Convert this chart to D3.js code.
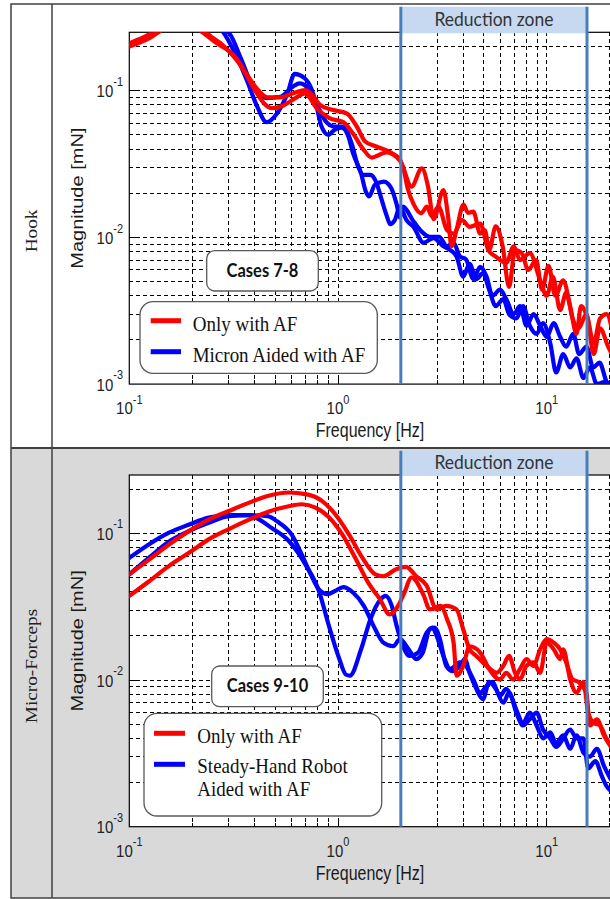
<!DOCTYPE html>
<html>
<head>
<meta charset="utf-8">
<script src="https://cdn.jsdelivr.net/npm/d3@7"></script>
<style>
  body { margin: 0; background: #fff; }
  svg { display: block; }
</style>
</head>
<body>
<svg id="fig" width="610" height="899"></svg>
<script>
// ---- data: [frequency Hz, magnitude mN] ----
var hookOnlyAF1 = [[0.1,0.21],[0.12,0.235],[0.137,0.26],[0.16,0.29],[0.19,0.29],[0.224,0.25],[0.263,0.21],[0.315,0.176],[0.367,0.128],[0.414,0.101],[0.46,0.09],[0.528,0.09],[0.61,0.096],[0.695,0.101],[0.74,0.096],[0.82,0.08],[0.94,0.074],[1.1,0.07],[1.23,0.057],[1.35,0.045],[1.5,0.042],[1.65,0.04],[1.84,0.037],[1.98,0.034],[2.05,0.03],[2.25,0.0222],[2.52,0.0295],[2.7,0.0222],[2.87,0.0133],[3.2,0.021],[3.37,0.0138],[3.5,0.0087],[3.7,0.0113],[3.99,0.0167],[4.2,0.0147],[4.45,0.015],[4.8,0.0106],[5.05,0.0112],[5.3,0.0082],[5.7,0.0119],[6.15,0.0087],[6.6,0.0046],[7.05,0.0082],[7.6,0.0078],[8.15,0.006],[8.9,0.007],[9.5,0.0044],[10.2,0.0064],[11,0.004],[12,0.0051],[12.95,0.0034],[13.9,0.0022],[14.6,0.0034],[15.7,0.0028],[16.8,0.0019],[18,0.0028],[19.4,0.003],[20.5,0.0024]];
var hookOnlyAF2 = [[0.1,0.2],[0.126,0.23],[0.15,0.27],[0.19,0.3],[0.22,0.28],[0.234,0.25],[0.28,0.205],[0.34,0.15],[0.4,0.101],[0.45,0.08],[0.48,0.076],[0.545,0.079],[0.625,0.089],[0.695,0.096],[0.79,0.076],[0.91,0.065],[1.06,0.061],[1.18,0.051],[1.32,0.04],[1.45,0.035],[1.57,0.0365],[1.71,0.038],[1.9,0.0355],[2.05,0.0303],[2.15,0.022],[2.3,0.0169],[2.5,0.0146],[2.67,0.0162],[2.81,0.014],[3.03,0.0162],[3.33,0.0112],[3.58,0.0106],[3.93,0.0131],[4.27,0.0118],[4.8,0.0124],[5.25,0.0082],[5.7,0.0074],[6.4,0.0067],[6.95,0.0087],[7.45,0.007],[8.3,0.0078],[9.3,0.0051],[10,0.004],[10.7,0.0054],[11.6,0.0032],[12.4,0.0042],[13.3,0.0028],[14.2,0.0024],[15.5,0.003],[16.8,0.0016],[18,0.0024],[19.7,0.0018],[21,0.0015]];
var hookMicron1 = [[0.1,0.3],[0.15,0.34],[0.2,0.33],[0.25,0.29],[0.282,0.25],[0.315,0.19],[0.365,0.119],[0.41,0.078],[0.455,0.061],[0.51,0.07],[0.57,0.094],[0.62,0.13],[0.69,0.122],[0.75,0.101],[0.79,0.078],[0.83,0.058],[0.9,0.05],[0.96,0.054],[1.04,0.056],[1.12,0.049],[1.18,0.0375],[1.29,0.0273],[1.36,0.0205],[1.41,0.019],[1.5,0.0228],[1.66,0.024],[1.8,0.0216],[1.91,0.0168],[1.98,0.0137],[2.05,0.0162],[2.28,0.0131],[2.48,0.0112],[2.75,0.0101],[3.05,0.0101],[3.33,0.0087],[3.58,0.0092],[3.84,0.0074],[4.1,0.0071],[4.45,0.0052],[4.8,0.0063],[5.15,0.0054],[5.5,0.004],[5.97,0.0044],[6.4,0.0038],[6.95,0.003],[7.45,0.0034],[8,0.0025],[8.65,0.003],[9.3,0.0025],[10,0.0021],[10.8,0.0026],[11.6,0.0021],[12.4,0.0018],[13.4,0.0022],[14.3,0.0016],[15.5,0.0018],[16.7,0.0013],[17.9,0.0014],[19.3,0.00105],[21,0.0009]];
var hookMicron2 = [[0.1,0.28],[0.15,0.31],[0.2,0.3],[0.25,0.27],[0.298,0.25],[0.34,0.17],[0.39,0.107],[0.455,0.089],[0.53,0.091],[0.61,0.107],[0.655,0.112],[0.73,0.101],[0.8,0.078],[0.88,0.061],[0.96,0.057],[1.06,0.057],[1.16,0.044],[1.25,0.0303],[1.32,0.0267],[1.43,0.0267],[1.53,0.0235],[1.62,0.018],[1.71,0.0141],[1.78,0.0123],[1.87,0.0131],[1.98,0.0162],[2.13,0.0131],[2.3,0.0118],[2.57,0.0092],[2.87,0.0099],[3.2,0.0087],[3.45,0.0082],[3.7,0.0074],[3.98,0.0054],[4.27,0.0066],[4.6,0.0052],[4.95,0.0057],[5.3,0.0044],[5.7,0.0034],[6.2,0.0038],[6.6,0.003],[7.15,0.0028],[7.7,0.0034],[8.3,0.0025],[8.95,0.0022],[9.6,0.0026],[10.4,0.0019],[11.1,0.0012],[12,0.0016],[12.95,0.0013],[13.9,0.0015],[15,0.0011],[16.1,0.0013],[17.4,0.001],[18.8,0.00103],[21,0.0009]];

var forcepsOnlyAF1 = [[0.1,0.0526],[0.124,0.066],[0.155,0.084],[0.194,0.104],[0.24,0.124],[0.3,0.142],[0.375,0.162],[0.46,0.18],[0.58,0.19],[0.7,0.185],[0.84,0.166],[0.97,0.135],[1.13,0.098],[1.31,0.068],[1.51,0.0526],[1.65,0.051],[1.9,0.057],[2.12,0.059],[2.37,0.051],[2.66,0.044],[2.97,0.0303],[3.3,0.032],[3.7,0.0303],[3.98,0.0222],[4.27,0.0162],[4.6,0.0146],[5.15,0.0125],[5.75,0.0112],[6.2,0.0125],[6.6,0.0146],[7.05,0.0112],[7.45,0.0101],[8,0.0125],[8.65,0.0132],[9.3,0.0112],[10,0.018],[10.8,0.0162],[11.6,0.0139],[12,0.0162],[12.95,0.0101],[13.9,0.0082],[15,0.0097],[15.8,0.006],[16.8,0.0051],[18,0.0049],[19.3,0.004],[20.5,0.0036]];
var forcepsOnlyAF2 = [[0.1,0.0375],[0.124,0.047],[0.155,0.06],[0.194,0.074],[0.24,0.091],[0.3,0.107],[0.375,0.124],[0.46,0.14],[0.58,0.153],[0.67,0.158],[0.78,0.15],[0.9,0.13],[1.05,0.098],[1.21,0.068],[1.41,0.045],[1.58,0.036],[1.77,0.028],[1.94,0.032],[2.08,0.0395],[2.25,0.05],[2.58,0.0375],[2.75,0.0303],[3.1,0.032],[3.33,0.026],[3.58,0.018],[3.7,0.0107],[3.98,0.0125],[4.27,0.017],[4.8,0.0154],[5.3,0.0119],[5.97,0.0101],[6.4,0.0112],[6.9,0.0101],[7.45,0.0119],[8,0.0139],[8.65,0.0125],[9.3,0.0162],[10,0.019],[10.8,0.018],[11.6,0.0162],[12.4,0.0132],[13.3,0.0101],[14.2,0.0097],[15.5,0.0082],[16.1,0.0049],[17.4,0.0054],[18.8,0.0042],[20.3,0.0035]];
var forcepsSteady1 = [[0.1,0.068],[0.124,0.084],[0.155,0.101],[0.194,0.115],[0.24,0.128],[0.3,0.133],[0.375,0.133],[0.46,0.131],[0.51,0.121],[0.6,0.098],[0.67,0.072],[0.74,0.0526],[0.81,0.0415],[0.89,0.0385],[0.97,0.0405],[1.06,0.043],[1.18,0.0395],[1.33,0.032],[1.48,0.0234],[1.65,0.018],[1.84,0.017],[1.98,0.019],[2.18,0.0162],[2.37,0.0139],[2.55,0.0154],[2.75,0.0222],[2.9,0.0228],[3.08,0.019],[3.3,0.0125],[3.55,0.0115],[3.84,0.0125],[4.05,0.0139],[4.27,0.0112],[4.6,0.0087],[4.95,0.0074],[5.3,0.0097],[5.7,0.0087],[6.2,0.007],[6.6,0.0082],[7.15,0.006],[7.7,0.0049],[8.3,0.0054],[8.95,0.006],[9.6,0.0046],[10.4,0.004],[11.1,0.0035],[12,0.004],[12.95,0.0046],[13.9,0.004],[15,0.004],[15.8,0.0025],[17.1,0.0028],[18.4,0.0022],[19.3,0.0019],[21,0.0017]];
var forcepsSteady2 = [[0.1,0.0526],[0.124,0.068],[0.155,0.088],[0.194,0.104],[0.24,0.118],[0.3,0.131],[0.375,0.133],[0.42,0.124],[0.48,0.109],[0.58,0.089],[0.7,0.061],[0.81,0.0405],[0.9,0.024],[1.01,0.0142],[1.09,0.0109],[1.14,0.0107],[1.29,0.0162],[1.43,0.026],[1.6,0.0355],[1.69,0.0375],[1.81,0.032],[1.91,0.0234],[2.02,0.018],[2.2,0.0146],[2.42,0.0154],[2.66,0.021],[2.83,0.0228],[2.97,0.02],[3.2,0.0146],[3.45,0.0119],[3.84,0.0132],[4.1,0.0125],[4.45,0.0101],[4.8,0.0082],[5.15,0.0091],[5.5,0.0097],[5.97,0.0078],[6.4,0.0087],[6.75,0.0078],[7.15,0.0063],[7.7,0.0051],[8.3,0.006],[8.95,0.0049],[9.6,0.004],[10.4,0.0044],[11.1,0.0037],[12,0.0042],[12.95,0.0034],[13.9,0.0042],[15,0.0032],[16.1,0.003],[17.4,0.0034],[18.8,0.0026],[20.3,0.0021]];

var reductionZone = [2, 15.6];           // Hz
var xLabelTicks = [0.1, 1, 10];
var xLabelExps = ["-1", "0", "1"];
var yLabelTicks = [0.001, 0.01, 0.1];
var yLabelExps = ["-3", "-2", "-1"];
var hookLegend = [["Only with AF"], ["Micron Aided with AF"]];
var forcepsLegend = [["Only with AF"], ["Steady-Hand Robot", "Aided with AF"]];

var RED = "#ff0000", BLUE = "#0000ff";
var SANS = "'Liberation Sans', Arial, sans-serif";
var SERIF = "'Liberation Serif', 'Times New Roman', serif";
var CALI = "Lato, 'Open Sans', sans-serif";

var svg = d3.select("#fig");

// x scale shared by both panels, plot runs just past the right edge
var x = d3.scaleLog().domain([0.1, 10]).range([129.3, 546.7]);
var plotRight = 611;

// minor tick values for the log grid
function logTicks(lo, hi) {
  var out = [];
  for (var e = -4; e <= 2; e++) {
    for (var k = 1; k <= 9; k++) {
      var v = k * Math.pow(10, e);
      if (v >= lo * 0.999 && v <= hi * 1.001) out.push(+v.toPrecision(3));
    }
  }
  return out;
}

function txt(parent, str, tx, ty, o) {
  o = o || {};
  var t = parent.append("text")
    .attr("transform", "translate(" + tx + "," + ty + ") scale(1," + (o.sy || 1) + ")" + (o.rot ? " rotate(-90)" : ""))
    .attr("font-family", o.font || SANS)
    .attr("font-size", o.size || 14)
    .attr("font-weight", o.weight || "normal")
    .attr("fill", o.fill || "#000")
    .attr("text-anchor", o.anchor || "start");
  t.text(str);
  return t;
}

// ---- frame and backgrounds ----
svg.append("rect").attr("x", 0).attr("y", 0).attr("width", 610).attr("height", 899).attr("fill", "#fff");
svg.append("rect").attr("x", 11).attr("y", 448).attr("width", 620).attr("height", 450).attr("fill", "#d9d9d9");

var panels = [
  {
    rowTop: 4, rowBottom: 448, plotTop: 32.3, plotBottom: 384.1,
    red: [hookOnlyAF1, hookOnlyAF2], blue: [hookMicron1, hookMicron2],
    rowLabel: "Hook", rowLabelY: 231,
    cases: "Cases 7-8", casesBox: [206.7, 250.7, 111.6, 40.3],
    legend: hookLegend, legendBox: [140, 301.7, 237.3, 71.6],
    legendLineX: [150.7, 181], legendLineY: [320.7, 351.7], legendTextX: 192.7,
    legendBaselines: [[330.7], [361.7]]
  },
  {
    rowTop: 448, rowBottom: 898, plotTop: 475, plotBottom: 826.7,
    red: [forcepsOnlyAF1, forcepsOnlyAF2], blue: [forcepsSteady1, forcepsSteady2],
    rowLabel: "Micro-Forceps", rowLabelY: 666,
    cases: "Cases 9-10", casesBox: [211.7, 666, 111.6, 40.7],
    legend: forcepsLegend, legendBox: [144, 713.3, 237.7, 102.7],
    legendLineX: [154, 185], legendLineY: [733.3, 764.3], legendTextX: 197.3,
    legendBaselines: [[742.7], [773.3, 796]]
  }
];

panels.forEach(function(p, pi) {
  var g = svg.append("g");
  var y = d3.scaleLog().domain([0.001, 0.25]).range([p.plotBottom, p.plotTop]);
  var x0 = x(0.1);

  // plot area
  g.append("rect")
    .attr("x", x0).attr("y", p.plotTop)
    .attr("width", plotRight - x0).attr("height", p.plotBottom - p.plotTop)
    .attr("fill", "#fff");

  // dashed log grid
  var xs = logTicks(0.1, 30).filter(function(v) { return v > 0.1 && x(v) < plotRight; });
  var ys = logTicks(0.001, 0.25).filter(function(v) { return v > 0.001; });
  var grid = g.append("g").attr("stroke", "#000").attr("stroke-width", 1)
    .attr("stroke-dasharray", "4,3").attr("shape-rendering", "crispEdges");
  grid.selectAll(".gx").data(xs).enter().append("line")
    .attr("x1", function(d) { return x(d); }).attr("x2", function(d) { return x(d); })
    .attr("y1", p.plotTop).attr("y2", p.plotBottom);
  grid.selectAll(".gy").data(ys).enter().append("line")
    .attr("x1", x0).attr("x2", plotRight)
    .attr("y1", function(d) { return y(d); }).attr("y2", function(d) { return y(d); });

  // inward ticks
  var ticks = g.append("g").attr("stroke", "#000").attr("shape-rendering", "crispEdges");
  ticks.selectAll(".tx").data(xs).enter().append("line")
    .attr("x1", function(d) { return x(d); }).attr("x2", function(d) { return x(d); })
    .attr("y1", p.plotBottom).attr("y2", function(d) { return p.plotBottom - (xLabelTicks.indexOf(d) >= 0 ? 7 : 4); });
  ticks.selectAll(".ty").data(ys).enter().append("line")
    .attr("x1", x0).attr("x2", function(d) { return x0 + (yLabelTicks.indexOf(d) >= 0 ? 7 : 4); })
    .attr("y1", function(d) { return y(d); }).attr("y2", function(d) { return y(d); });

  // axes box
  g.append("rect")
    .attr("x", x0).attr("y", p.plotTop)
    .attr("width", plotRight - x0).attr("height", p.plotBottom - p.plotTop)
    .attr("fill", "none").attr("stroke", "#000").attr("stroke-width", 1.2);

  // curves
  var clipId = "clip" + pi;
  svg.append("defs").append("clipPath").attr("id", clipId).append("rect")
    .attr("x", x0).attr("y", p.plotTop)
    .attr("width", plotRight - x0).attr("height", p.plotBottom - p.plotTop);
  var line = d3.line()
    .x(function(d) { return x(d[0]); })
    .y(function(d) { return y(d[1]); })
    .curve(d3.curveMonotoneX);
  var cg = g.append("g").attr("clip-path", "url(#" + clipId + ")");
  p.blue.forEach(function(s) {
    cg.append("path").datum(s).attr("d", line)
      .attr("fill", "none").attr("stroke", BLUE).attr("stroke-width", 4.2)
      .attr("stroke-linejoin", "round").attr("stroke-linecap", "round");
  });
  p.red.forEach(function(s) {
    cg.append("path").datum(s).attr("d", line)
      .attr("fill", "none").attr("stroke", RED).attr("stroke-width", 4.2)
      .attr("stroke-linejoin", "round").attr("stroke-linecap", "round");
  });

  // tick labels
  xLabelTicks.forEach(function(v, i) {
    var t = txt(g, "10", x(v), p.plotBottom + 30, { size: 15, sy: 1.15, anchor: "middle", fill: "#222" });
    t.append("tspan").attr("dy", -9).attr("font-size", 11).text(xLabelExps[i]);
  });
  yLabelTicks.forEach(function(v, i) {
    var t = txt(g, "10", 123, y(v) + 6.6, { size: 15, sy: 1.15, anchor: "end", fill: "#222" });
    t.append("tspan").attr("dy", -10).attr("font-size", 11).text(yLabelExps[i]);
  });

  // axis labels
  txt(g, "Frequency [Hz]", 370, p.plotBottom + 53, { size: 16, sy: 1.25, anchor: "middle", fill: "#1a1a1a" });
  txt(g, "Magnitude [mN]", 83, (p.plotTop + p.plotBottom) / 2 - 10, { size: 16, sy: 1.25, rot: true, anchor: "middle", fill: "#1a1a1a" });

  // reduction zone
  var rx0 = x(reductionZone[0]), rx1 = x(reductionZone[1]);
  g.append("rect")
    .attr("x", rx0).attr("y", p.rowTop + 2.7)
    .attr("width", rx1 - rx0).attr("height", p.plotTop + 1 - (p.rowTop + 2.7))
    .attr("fill", "#c6d9f1");
  g.selectAll(".rz").data(reductionZone).enter().append("line")
    .attr("x1", function(d) { return x(d); }).attr("x2", function(d) { return x(d); })
    .attr("y1", p.rowTop + 2.7).attr("y2", p.plotBottom)
    .attr("stroke", "#4a7ebb").attr("stroke-width", 3);
  txt(g, "Reduction zone", (rx0 + rx1) / 2, p.plotTop - 6.5, { font: CALI, size: 17.5, sy: 1.1, anchor: "middle", fill: "#333" });

  // cases box
  var cb = p.casesBox;
  g.append("rect").attr("x", cb[0]).attr("y", cb[1]).attr("width", cb[2]).attr("height", cb[3])
    .attr("rx", 8).attr("fill", "#fff").attr("stroke", "#595959").attr("stroke-width", 1.3);
  txt(g, p.cases, cb[0] + cb[2] / 2, cb[1] + 26, { font: CALI, size: 16.5, weight: "bold", sy: 1.1, anchor: "middle", fill: "#111" });

  // legend
  var lb = p.legendBox;
  g.append("rect").attr("x", lb[0]).attr("y", lb[1]).attr("width", lb[2]).attr("height", lb[3])
    .attr("rx", 13).attr("fill", "#fff").attr("stroke", "#595959").attr("stroke-width", 1.3);
  [RED, BLUE].forEach(function(c, i) {
    g.append("line")
      .attr("x1", p.legendLineX[0]).attr("x2", p.legendLineX[1])
      .attr("y1", p.legendLineY[i]).attr("y2", p.legendLineY[i])
      .attr("stroke", c).attr("stroke-width", 5);
    p.legend[i].forEach(function(s, j) {
      txt(g, s, p.legendTextX, p.legendBaselines[i][j], { font: SERIF, size: 19, sy: 1.1, fill: "#111" });
    });
  });

  // row label
  txt(g, p.rowLabel, 37, p.rowLabelY, { font: SERIF, size: 17.5, sy: 1.1, rot: true, anchor: "middle", fill: "#222" });
});

// table lines
var frame = svg.append("g").attr("fill", "none").attr("stroke", "#404040");
frame.append("rect").attr("x", 11).attr("y", 4).attr("width", 640).attr("height", 894).attr("stroke-width", 1.5);
frame.append("line").attr("x1", 52).attr("x2", 52).attr("y1", 4).attr("y2", 898).attr("stroke-width", 1.5);
frame.append("line").attr("x1", 11).attr("x2", 640).attr("y1", 448).attr("y2", 448).attr("stroke-width", 2);
</script>
</body>
</html>
